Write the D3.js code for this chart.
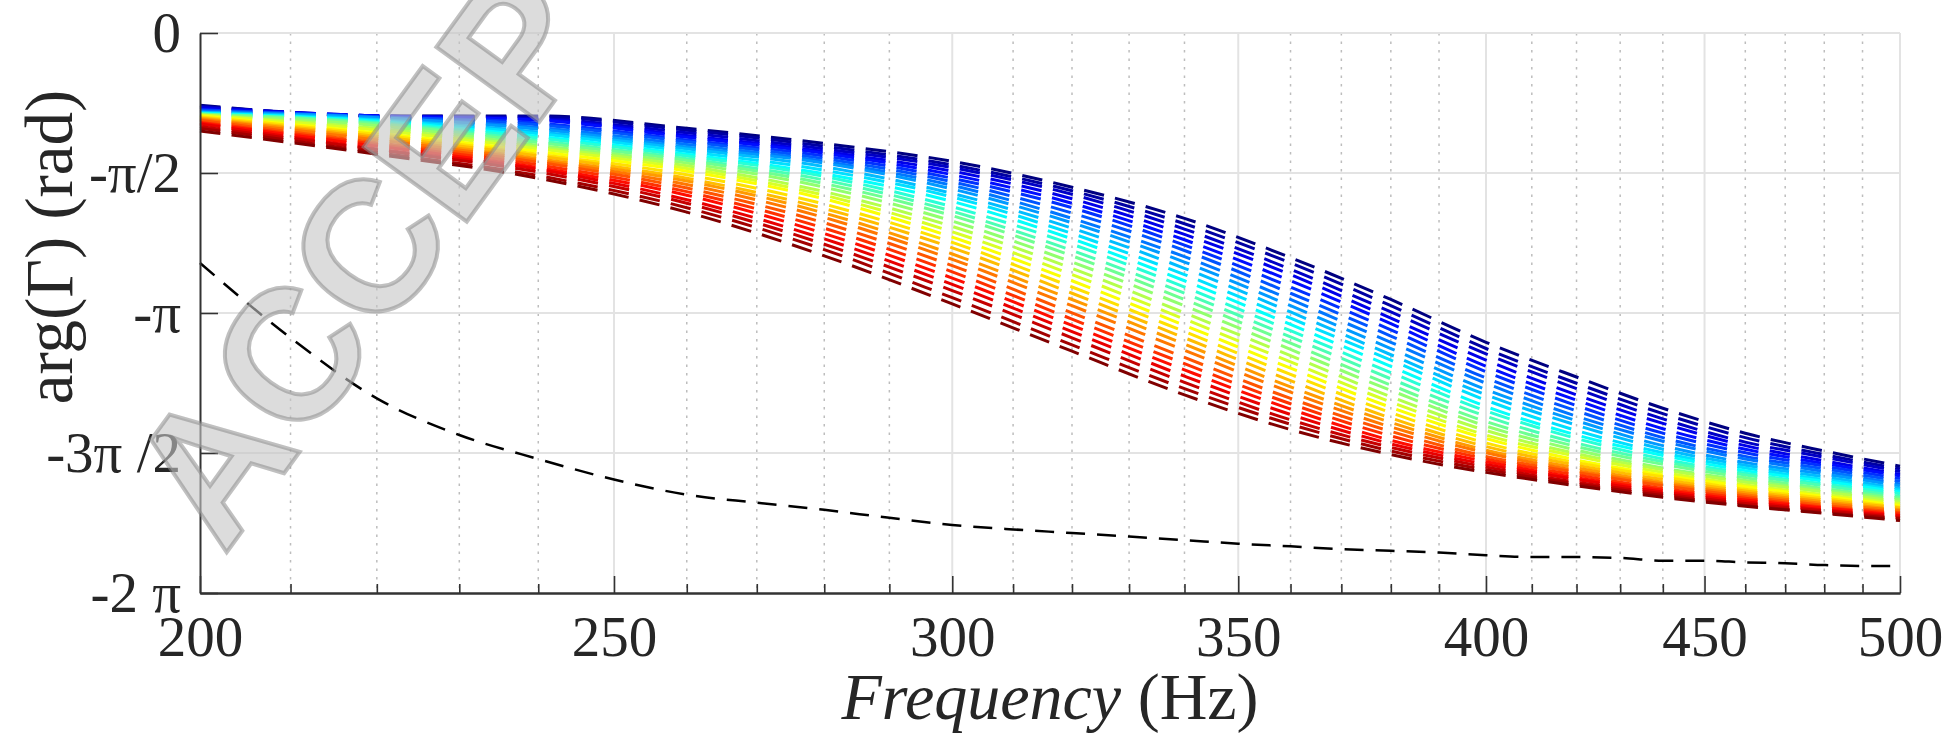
<!DOCTYPE html>
<html>
<head>
<meta charset="utf-8">
<script src="https://cdn.jsdelivr.net/npm/d3@7"></script>
<style>
body { margin: 0; background: #fff; }
svg { display: block; }
</style>
</head>
<body>
<svg id="chart" width="1950" height="754"></svg>
<script>
// frequencies (Hz) at which the coloured family was read
var freqs = [200,220,240,260,280,300,320,340,360,380,400,420,440,460,480,500];

// arg(Gamma) in rad, one array per curve, first = dark blue, last = dark red
var phaseLines = [
  [-0.81,-0.93,-0.93,-1.07,-1.24,-1.44,-1.73,-2.08,-2.52,-2.99,-3.47,-3.86,-4.21,-4.49,-4.69,-4.86],
  [-0.82,-0.93,-0.94,-1.09,-1.27,-1.48,-1.77,-2.14,-2.58,-3.06,-3.54,-3.93,-4.27,-4.54,-4.73,-4.89],
  [-0.83,-0.93,-0.96,-1.12,-1.30,-1.51,-1.81,-2.20,-2.65,-3.13,-3.60,-3.99,-4.33,-4.59,-4.76,-4.92],
  [-0.84,-0.93,-0.97,-1.15,-1.33,-1.55,-1.86,-2.26,-2.71,-3.20,-3.67,-4.06,-4.38,-4.63,-4.80,-4.95],
  [-0.86,-0.93,-0.98,-1.17,-1.35,-1.59,-1.91,-2.32,-2.78,-3.26,-3.74,-4.12,-4.44,-4.67,-4.83,-4.97],
  [-0.86,-0.94,-1.01,-1.20,-1.38,-1.63,-1.96,-2.38,-2.85,-3.33,-3.80,-4.18,-4.49,-4.71,-4.86,-5.00],
  [-0.87,-0.94,-1.03,-1.22,-1.41,-1.67,-2.02,-2.44,-2.92,-3.40,-3.87,-4.24,-4.54,-4.75,-4.89,-5.03],
  [-0.88,-0.95,-1.06,-1.25,-1.44,-1.71,-2.08,-2.51,-2.99,-3.47,-3.93,-4.30,-4.58,-4.78,-4.92,-5.06],
  [-0.89,-0.95,-1.08,-1.28,-1.46,-1.75,-2.13,-2.57,-3.06,-3.54,-4.00,-4.35,-4.63,-4.82,-4.95,-5.08],
  [-0.89,-0.97,-1.11,-1.30,-1.50,-1.80,-2.19,-2.64,-3.13,-3.61,-4.06,-4.40,-4.67,-4.85,-4.98,-5.11],
  [-0.90,-0.98,-1.13,-1.33,-1.54,-1.84,-2.25,-2.71,-3.20,-3.67,-4.12,-4.46,-4.71,-4.88,-5.01,-5.13],
  [-0.90,-0.99,-1.16,-1.36,-1.58,-1.89,-2.31,-2.78,-3.27,-3.74,-4.19,-4.51,-4.74,-4.91,-5.03,-5.15],
  [-0.91,-1.00,-1.18,-1.38,-1.61,-1.95,-2.37,-2.85,-3.34,-3.81,-4.24,-4.55,-4.78,-4.94,-5.06,-5.17],
  [-0.91,-1.01,-1.21,-1.41,-1.65,-2.00,-2.44,-2.92,-3.41,-3.88,-4.30,-4.60,-4.81,-4.96,-5.08,-5.20],
  [-0.91,-1.02,-1.23,-1.43,-1.69,-2.05,-2.50,-2.99,-3.48,-3.95,-4.36,-4.64,-4.84,-4.99,-5.11,-5.22],
  [-0.92,-1.04,-1.26,-1.46,-1.73,-2.11,-2.57,-3.06,-3.55,-4.01,-4.41,-4.68,-4.88,-5.02,-5.13,-5.24],
  [-0.92,-1.07,-1.28,-1.49,-1.78,-2.17,-2.64,-3.14,-3.62,-4.08,-4.46,-4.72,-4.90,-5.04,-5.15,-5.26],
  [-0.92,-1.09,-1.30,-1.52,-1.82,-2.23,-2.71,-3.21,-3.69,-4.14,-4.51,-4.75,-4.93,-5.07,-5.18,-5.28],
  [-0.93,-1.12,-1.33,-1.55,-1.86,-2.29,-2.78,-3.28,-3.76,-4.20,-4.55,-4.79,-4.96,-5.09,-5.20,-5.30],
  [-0.94,-1.14,-1.36,-1.59,-1.92,-2.35,-2.85,-3.35,-3.83,-4.26,-4.60,-4.82,-4.98,-5.12,-5.22,-5.32],
  [-0.95,-1.16,-1.38,-1.63,-1.97,-2.41,-2.92,-3.42,-3.90,-4.32,-4.64,-4.85,-5.01,-5.14,-5.24,-5.33],
  [-0.96,-1.18,-1.41,-1.66,-2.02,-2.48,-2.99,-3.49,-3.97,-4.37,-4.68,-4.88,-5.04,-5.16,-5.26,-5.35],
  [-0.97,-1.20,-1.43,-1.70,-2.07,-2.54,-3.06,-3.56,-4.03,-4.42,-4.71,-4.91,-5.06,-5.18,-5.28,-5.36],
  [-0.98,-1.23,-1.45,-1.74,-2.13,-2.61,-3.14,-3.64,-4.10,-4.47,-4.75,-4.93,-5.08,-5.20,-5.30,-5.38],
  [-1.00,-1.25,-1.48,-1.78,-2.19,-2.68,-3.21,-3.71,-4.16,-4.52,-4.78,-4.96,-5.11,-5.22,-5.32,-5.39],
  [-1.01,-1.27,-1.51,-1.82,-2.25,-2.75,-3.28,-3.78,-4.22,-4.57,-4.81,-4.99,-5.13,-5.24,-5.33,-5.41],
  [-1.02,-1.30,-1.53,-1.87,-2.31,-2.82,-3.35,-3.85,-4.28,-4.61,-4.84,-5.01,-5.15,-5.26,-5.35,-5.42],
  [-1.05,-1.31,-1.56,-1.91,-2.37,-2.89,-3.42,-3.92,-4.34,-4.65,-4.87,-5.04,-5.17,-5.28,-5.36,-5.44],
  [-1.07,-1.34,-1.60,-1.96,-2.43,-2.97,-3.50,-3.99,-4.39,-4.69,-4.90,-5.06,-5.19,-5.30,-5.38,-5.45],
  [-1.10,-1.36,-1.63,-2.01,-2.50,-3.04,-3.57,-4.06,-4.45,-4.73,-4.93,-5.08,-5.21,-5.31,-5.39,-5.47]
];

// black dashed reference curve
var refFreqs = [200,210,220,230,240,250,260,270,280,290,300,310,320,330,340,350,360,370,380,390,400,410,420,430,440,450,460,470,480,490,500];
var refPhase = [-2.58,-3.42,-4.10,-4.51,-4.78,-5.01,-5.18,-5.27,-5.35,-5.44,-5.52,-5.57,-5.61,-5.65,-5.69,-5.73,-5.76,-5.79,-5.81,-5.83,-5.86,-5.88,-5.88,-5.89,-5.92,-5.92,-5.94,-5.95,-5.97,-5.98,-5.98];

var xMajorTicks = [200,250,300,350,400,450,500];
var xMinorTicks = [210,220,230,240,260,270,280,290,310,320,330,340,360,370,380,390,410,420,430,440,460,470,480,490];
var yTicks = [-2*Math.PI, -1.5*Math.PI, -Math.PI, -0.5*Math.PI, 0];
var yTickLabels = ["-2 \u03c0", "-3\u03c0 /2", "-\u03c0", "-\u03c0/2", "0"];

var plotLeft = 200, plotRight = 1900, plotTop = 33, plotBottom = 593;
var serif = "'Liberation Serif','Times New Roman',serif";

var svg = d3.select("#chart");

var x = d3.scaleLog().domain([200, 500]).range([plotLeft, plotRight]);
var y = d3.scaleLinear().domain([-2*Math.PI, 0]).range([plotBottom, plotTop]);

var jet = d3.scaleLinear()
    .domain([0, 1/8, 3/8, 5/8, 7/8, 1])
    .range(["#000080", "#0000ff", "#00ffff", "#ffff00", "#ff0000", "#800000"]);

// grid
var grid = svg.append("g").attr("class", "grid");
grid.selectAll(".minor").data(xMinorTicks).enter().append("line")
    .attr("x1", d => x(d)).attr("x2", d => x(d))
    .attr("y1", plotTop).attr("y2", plotBottom)
    .attr("stroke", "#bdbdbd").attr("stroke-width", 1.5)
    .attr("stroke-dasharray", "2.5,6");
grid.selectAll(".major").data(xMajorTicks.slice(1)).enter().append("line")
    .attr("x1", d => x(d)).attr("x2", d => x(d))
    .attr("y1", plotTop).attr("y2", plotBottom)
    .attr("stroke", "#e3e3e3").attr("stroke-width", 2);
grid.selectAll(".hmajor").data(yTicks.slice(1)).enter().append("line")
    .attr("x1", plotLeft).attr("x2", plotRight)
    .attr("y1", d => y(d)).attr("y2", d => y(d))
    .attr("stroke", "#e3e3e3").attr("stroke-width", 2);

// coloured family
var line = d3.line()
    .x((d, i) => x(freqs[i]))
    .y(d => y(d))
    .curve(d3.curveMonotoneX);

svg.append("g").selectAll("path")
    .data(phaseLines)
    .enter().append("path")
    .attr("d", line)
    .attr("fill", "none")
    .attr("stroke", (d, i) => jet(i / (phaseLines.length - 1)))
    .attr("stroke-width", 3)
    .attr("stroke-dasharray", "20.5,11.3");

// reference line
var refLine = d3.line()
    .x((d, i) => x(refFreqs[i]))
    .y(d => y(d))
    .curve(d3.curveMonotoneX);

svg.append("path")
    .datum(refPhase)
    .attr("d", refLine)
    .attr("fill", "none")
    .attr("stroke", "#000")
    .attr("stroke-width", 2.5)
    .attr("stroke-dasharray", "19,12");

// axes
var xAxis = d3.axisBottom(x).tickValues(xMajorTicks).tickFormat(d3.format("d"))
    .tickSizeInner(-17).tickSizeOuter(0);
var xMinor = d3.axisBottom(x).tickValues(xMinorTicks).tickFormat("")
    .tickSizeInner(-9).tickSizeOuter(0);
var yAxis = d3.axisLeft(y).tickValues(yTicks).tickFormat((d, i) => yTickLabels[i])
    .tickSizeInner(-18).tickSizeOuter(0);

var gx = svg.append("g").attr("transform", "translate(0," + plotBottom + ")").call(xAxis);
var gxm = svg.append("g").attr("transform", "translate(0," + plotBottom + ")").call(xMinor);
var gy = svg.append("g").attr("transform", "translate(" + plotLeft + ",0)").call(yAxis);

[gx, gxm, gy].forEach(function(g) {
  g.select(".domain").attr("stroke", "#333").attr("stroke-width", 2);
  g.selectAll(".tick line").attr("stroke", "#333").attr("stroke-width", 1.6);
});
gx.selectAll(".tick text")
    .attr("y", 63).attr("dy", 0)
    .attr("fill", "#262626")
    .style("font-family", serif).style("font-size", "57px");
gy.selectAll(".tick text")
    .attr("x", -19).attr("dy", "0.33em")
    .attr("fill", "#262626")
    .style("font-family", serif).style("font-size", "57px");

// axis titles
var xt = svg.append("text")
    .attr("x", (plotLeft + plotRight) / 2).attr("y", 719)
    .attr("text-anchor", "middle")
    .attr("fill", "#262626")
    .style("font-family", serif).style("font-size", "66px");
xt.append("tspan").style("font-style", "italic").text("Frequency");
xt.append("tspan").text(" (Hz)");

svg.append("text")
    .attr("transform", "translate(72,247) rotate(-90)")
    .attr("text-anchor", "middle")
    .attr("fill", "#262626")
    .style("font-family", serif).style("font-size", "67px")
    .text("arg(\u0393) (rad)");

// watermark
svg.append("text")
    .attr("transform", "translate(224,556) rotate(-54)")
    .attr("fill", "#c4c4c4").attr("fill-opacity", 0.6)
    .attr("stroke", "#8c8c8c").attr("stroke-opacity", 0.55).attr("stroke-width", 4)
    .style("font-family", "'Liberation Sans',Arial,sans-serif")
    .style("font-weight", "bold").style("font-size", "185px")
    .text("ACCEPTED");
</script>
</body>
</html>
